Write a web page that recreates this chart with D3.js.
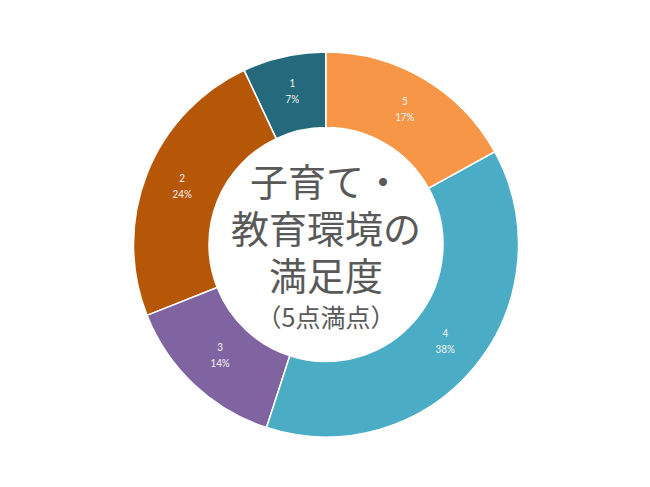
<html>
 <head>
 <meta charset="utf-8">
 <title>子育て・教育環境の満足度</title>
<style>
 body{ margin:0; background:#fff; }
</style>
<script src="https://cdnjs.cloudflare.com/ajax/libs/d3/7.8.5/d3.min.js"></script>
 </head>
 <body>
   <div id="plot"></div>
<script>
  var categories = ["1", "2", "3", "4", "5"];
  var values = [7, 24, 14, 38, 17];
  var colors = ["#246a7c", "#b65708", "#8064a2", "#4bacc6", "#f79646"];
  var titleLines = ["子育て・", "教育環境の", "満足度"];
  var subTitle = "（5点満点）";

  var w = 650,
      h = 487,
      cx = 326, cy = 244.5,
      outer = 192.5, inner = 117;

  var vis = d3.select("#plot").append("svg")
     .attr("width", w)
     .attr("height", h);

  var total = d3.sum(values);
  var data = categories.map(function(c, i) { return {cat: c, v: values[i]}; });

  // slices go counter-clockwise from 12 o'clock: 1,2,3,4,5
  var pie = d3.pie().sort(null).value(function(d) { return d.v; })
     .startAngle(0).endAngle(-2 * Math.PI);
  var arc = d3.arc().innerRadius(inner).outerRadius(outer);
  var labelArc = d3.arc().innerRadius((inner + outer) / 2).outerRadius((inner + outer) / 2);

  var g = vis.append("g").attr("transform", "translate(" + cx + "," + cy + ")");

  g.selectAll("path")
    .data(pie(data))
    .enter()
    .append("path")
    .attr("d", arc)
    .attr("fill", function(d, i) { return colors[i]; })
    .attr("stroke", "#fff")
    .attr("stroke-width", 1.5);

  // narrow look for the slice labels
  var lab = g.selectAll("text.lab")
    .data(pie(data))
    .enter()
    .append("text")
    .attr("class", "lab")
    .attr("transform", function(d) { return "translate(" + labelArc.centroid(d) + ") scale(0.82,1)"; })
    .attr("text-anchor", "middle")
    .attr("font-family", "Lato, 'Open Sans', sans-serif")
    .attr("font-size", 12)
    .attr("fill", "#f4f4f4");
  lab.append("tspan").attr("x", 0).attr("y", -6).text(function(d) { return d.data.cat; });
  lab.append("tspan").attr("x", 0).attr("y", 10)
     .text(function(d) { return Math.round(d.data.v / total * 100) + "%"; });

  var tg = vis.append("text").attr("font-family", "'Noto Sans CJK JP', sans-serif")
     .attr("fill", "#595959").attr("text-anchor", "middle");
  tg.selectAll("tspan.t")
    .data(titleLines)
    .enter()
    .append("tspan")
    .attr("class", "t")
    .attr("x", cx)
    .attr("y", function(d, i) { return 196 + i * 47; })
    .attr("font-size", 38)
    .text(function(d) { return d; });
  tg.append("tspan")
    .attr("x", cx)
    .attr("y", 327)
    .attr("font-size", 25)
    .text(subTitle);
</script>
 </body>
</html>
